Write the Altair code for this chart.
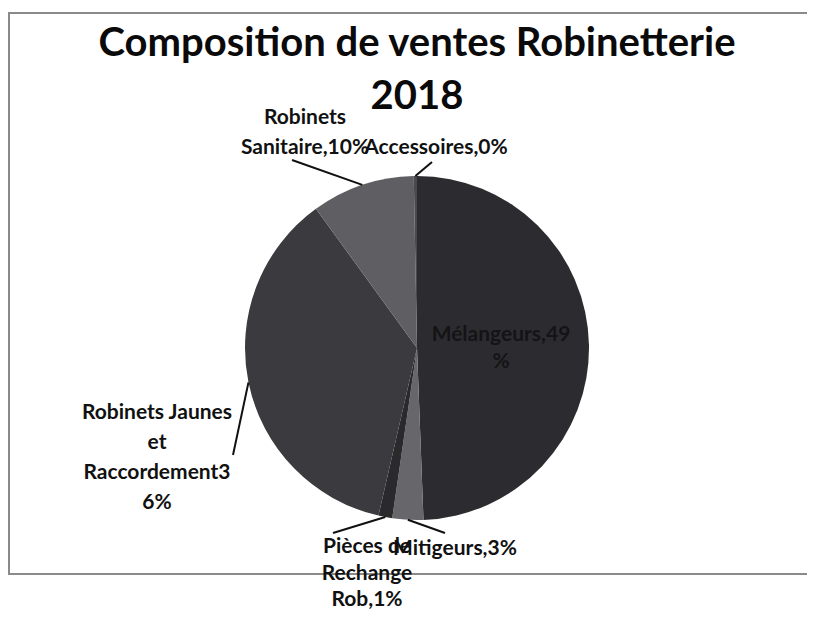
import math
import altair as alt
import pandas as pd

# ---------------- data ----------------
categories = ["Mélangeurs", "Mitigeurs", "Pièces de Rechange Rob",
              "Robinets Jaunes et Raccordement", "Robinets Sanitaire", "Accessoires"]
values = [49.4, 2.9, 1.3, 36.4, 9.7, 0.3]
labels = ["Mélangeurs,49\n%", "Mitigeurs,3%", "Pièces de\nRechange\nRob,1%",
          "Robinets Jaunes\net\nRaccordement3\n6%", "Robinets\nSanitaire,10%", "Accessoires,0%"]
colors = ["#2c2c30", "#67676b", "#2a2a2c", "#3b3b3f", "#5f5f63", "#4a4a4e"]
title_lines = ["Composition de ventes Robinetterie", "2018"]

# ---------------- layout (page pixels) ----------------
ORIGIN = (8, 12)
CENTER = (417, 348)
RADIUS = 172
# (x centre, y of first line, line height)
label_pos = [(501, 335, 27), (455, 549, 30), (367, 547, 26.5), (157, 413, 30), (305, 118, 30), (436, 148, 30)]
leader_end = [None, (445, 533), (333, 533), (233, 455), (292, 160), (432, 162)]
label_colors = ["#141416", "#111111", "#111111", "#111111", "#111111", "#111111"]
FONT = "Lato"
LABEL_SIZE = 21
W, H = 799, 562

cx, cy = CENTER[0] - ORIGIN[0], CENTER[1] - ORIGIN[1]

df = pd.DataFrame({"cat": categories, "val": values, "idx": range(len(values))})

total = sum(values)
cum = 0.0
mids = []
for v in values:
    mids.append((cum + v / 2) / total * 2 * math.pi)
    cum += v

rule_rows = []
for i in range(len(values)):
    if leader_end[i] is not None:
        a = mids[i]
        rule_rows.append({
            "x": cx + RADIUS * math.sin(a), "y": cy - RADIUS * math.cos(a),
            "x2": leader_end[i][0] - ORIGIN[0], "y2": leader_end[i][1] - ORIGIN[1]})
rule_df = pd.DataFrame(rule_rows)
title_df = pd.DataFrame([{"t": "\n".join(title_lines)}])

pie = alt.Chart(df).mark_arc(radius=RADIUS, stroke=None).encode(
    theta=alt.Theta("val:Q", stack=True),
    order=alt.Order("idx:Q"),
    color=alt.Color("cat:N", scale=alt.Scale(domain=categories, range=colors), legend=None),
    x=alt.value(cx), y=alt.value(cy),
)

leaders = alt.Chart(rule_df).mark_rule(color="#111111", strokeWidth=2).encode(
    x=alt.X("x:Q", scale=None), y=alt.Y("y:Q", scale=None),
    x2="x2:Q", y2="y2:Q",
)

label_layers = []
for i, lab in enumerate(labels):
    lx, ly, lh = label_pos[i]
    d = pd.DataFrame([{"label": lab, "lx": lx - ORIGIN[0], "ly": ly - ORIGIN[1]}])
    label_layers.append(
        alt.Chart(d).mark_text(
            font=FONT, fontWeight="bold", fontSize=LABEL_SIZE, color=label_colors[i],
            lineBreak="\n", lineHeight=lh, align="center", baseline="middle",
        ).encode(x=alt.X("lx:Q", scale=None), y=alt.Y("ly:Q", scale=None), text="label:N")
    )

title = alt.Chart(title_df).mark_text(
    font=FONT, fontWeight="bold", fontSize=40, color="#0a0a0a",
    lineBreak="\n", lineHeight=53, align="center", baseline="middle",
).encode(x=alt.value(CENTER[0] - ORIGIN[0]), y=alt.value(44 - ORIGIN[1]), text="t:N")

border_col = "#8a8a8a"
left_b = alt.Chart(title_df).mark_rule(color=border_col, strokeWidth=2).encode(
    x=alt.value(1), y=alt.value(0), y2=alt.value(H))
top_b = alt.Chart(title_df).mark_rule(color=border_col, strokeWidth=2).encode(
    x=alt.value(0), x2=alt.value(W), y=alt.value(1))
bot_b = alt.Chart(title_df).mark_rule(color=border_col, strokeWidth=2).encode(
    x=alt.value(0), x2=alt.value(W), y=alt.value(H))

chart = alt.layer(left_b, top_b, bot_b, pie, leaders, title, *label_layers).properties(
    width=W, height=H,
    padding={"left": 0, "top": 4, "right": 0, "bottom": 37},
    autosize=alt.AutoSizeParams(type="none"),
).configure_view(strokeWidth=0)

chart.save("out.html", embed_options={"renderer": "svg", "actions": False})
